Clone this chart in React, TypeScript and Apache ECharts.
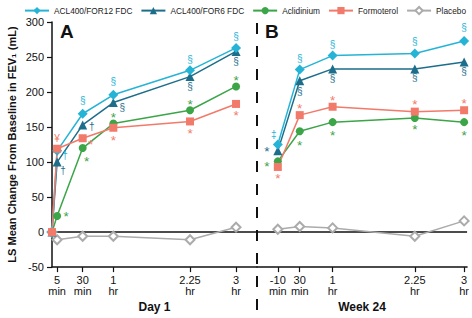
import React, { useEffect, useRef } from "react";
import * as echarts from "echarts";

// ---------- data ----------
const timesA = [0, 5, 30, 60, 135, 180]; // minutes after dose, Day 1
const slotsB = [10, 30, 60, 135, 180]; // plotted slot of each Week 24 time point
const tickValuesA = [5, 30, 60, 135, 180];
const tickLabelsA = ["5\nmin", "30\nmin", "1\nhr", "2.25\nhr", "3\nhr"];
const tickLabelsB = ["-10\nmin", "30\nmin", "1\nhr", "2.25\nhr", "3\nhr"];

const for12A = [0, 116, 169, 196, 231, 263];
const for6A = [0, 100, 153, 185, 222, 258];
const aclA = [0, 23, 120, 155, 174, 208];
const formA = [0, 119, 134, 149, 158, 183];
const placA = [0, -11, -6, -6, -11, 7];

const for12B = [125, 232, 252, 255, 273];
const for6B = [116, 216, 233, 233, 243];
const aclB = [101, 144, 157, 163, 157];
const formB = [93, 167, 179, 172, 174];
const placB = [4, 8, 6, -6, 16];

const annFor12A = ["", "†", "§", "§", "§", "§"];
const annFor6A = ["", "†", "†", "§", "§", "§"];
const annAclA = ["", "*", "*", "*", "*", "*"];
const annFormA = ["", "¥", "*", "*", "*", "*"];
const annFor12B = ["‡", "§", "§", "§", "§"];
const annFor6B = ["*", "§", "§", "§", "§"];
const annAclB = ["*", "*", "*", "*", "*"];
const annFormB = ["*", "*", "*", "*", "*"];

// ---------- styles ----------
const FONT = "Liberation Sans, Arial, Helvetica, sans-serif";
const INK = "#111111";
const C12 = "#25b4d6";
const C6 = "#1d6e8b";
const CACL = "#3ba547";
const CFORM = "#f27a6a";
const CPLA = "#ababab";

const X_MAX_A = 200.5;
const X_MIN_B = -9;
const X_MAX_B = 182.7;

const offFor12A = [null, [8, 5], [0, -13], [0, -13], [0, -11], [0, -11]];
const offFor6A = [null, [6, 8], [9, 2], [9, 5], [0, 10], [0, 10]];
const offAclA = [null, [9, -2], [4, 10], [0, -9], [0, -9], [0, -9]];
const offFormA = [null, [0, -10], [8, 3], [0, 10], [0, 9], [0, 9]];
const offFor12B = [[-4, -10], [0, -11], [0, -11], [0, -12], [0, -13]];
const offFor6B = [[-11, -2], [0, 11], [0, 10], [0, 9], [0, 10]];
const offAclB = [[-11, 2], [0, 11], [0, 10], [0, 9], [0, 10]];
const offFormB = [[0, 9], [0, -10], [0, -9], [0, -10], [0, -10]];

function makeData(xs: number[], ys: number[], ann: string[], offs: any[], color: string) {
  return xs.map((x, i) => {
    const item: any = { value: [x, ys[i]] };
    const t = ann[i];
    if (t && offs[i]) {
      const star = t === "*";
      item.label = {
        show: true,
        formatter: t,
        position: "inside",
        align: "center",
        verticalAlign: "middle",
        offset: [offs[i][0], offs[i][1] + (star ? 3 : 0)],
        color,
        fontSize: star ? 13.5 : 10,
        lineHeight: 8,
        fontFamily: FONT,
      };
    }
    return item;
  });
}

const defs = [
  { name: "Placebo", color: CPLA, symbol: "emptyDiamond", size: 9, a: placA, b: placB, annA: [], annB: [], offA: [], offB: [] },
  { name: "Aclidinium", color: CACL, symbol: "circle", size: 8, a: aclA, b: aclB, annA: annAclA, annB: annAclB, offA: offAclA, offB: offAclB },
  { name: "ACL400/FOR6 FDC", color: C6, symbol: "triangle", size: 9, a: for6A, b: for6B, annA: annFor6A, annB: annFor6B, offA: offFor6A, offB: offFor6B },
  { name: "ACL400/FOR12 FDC", color: C12, symbol: "diamond", size: 10, a: for12A, b: for12B, annA: annFor12A, annB: annFor12B, offA: offFor12A, offB: offFor12B },
  { name: "Formoterol", color: CFORM, symbol: "rect", size: 8, a: formA, b: formB, annA: annFormA, annB: annFormB, offA: offFormA, offB: offFormB },
];

const legendOrder = ["ACL400/FOR12 FDC", "ACL400/FOR6 FDC", "Aclidinium", "Formoterol", "Placebo"];

function buildSeries() {
  const out: any[] = [];
  // zero reference line across each panel, spanning the axis extent
  const extents = [
    [0, X_MAX_A],
    [X_MIN_B, X_MAX_B],
  ];
  extents.forEach((ext, panel) => {
    out.push({
      name: "zero",
      type: "line",
      xAxisIndex: panel,
      yAxisIndex: panel,
      data: [
        [ext[0], 0],
        [ext[1], 0],
      ],
      symbol: "none",
      silent: true,
      lineStyle: { color: INK, width: 1.5 },
      itemStyle: { color: INK },
      emphasis: { disabled: true },
      z: 1,
    });
  });
  defs.forEach((d) => {
    [0, 1].forEach((panel) => {
      const xs = panel === 0 ? timesA : slotsB;
      const ys = panel === 0 ? d.a : d.b;
      const ann = panel === 0 ? d.annA : d.annB;
      const offs = panel === 0 ? d.offA : d.offB;
      out.push({
        name: d.name,
        type: "line",
        xAxisIndex: panel,
        yAxisIndex: panel,
        data: makeData(xs, ys, ann as string[], offs as any[], d.color),
        symbol: d.symbol,
        symbolSize: d.size,
        color: d.color,
        itemStyle: { color: d.color },
        lineStyle: { color: d.color, width: 1.5 },
        emphasis: { disabled: true },
        z: 3,
      });
    });
  });
  return out;
}

function xAxis(grid: number, min: number, max: number, ticks: number[], labels: string[], name: string) {
  return {
    type: "value",
    gridIndex: grid,
    min,
    max,
    axisLine: { show: true, onZero: false, lineStyle: { color: INK, width: 1.5 } },
    axisTick: { show: true, customValues: ticks, length: 5, lineStyle: { color: INK, width: 1.2 } },
    axisLabel: {
      customValues: ticks,
      formatter: (v: number) => {
        const i = ticks.indexOf(v);
        return i >= 0 ? labels[i] : "";
      },
      fontSize: 11,
      lineHeight: 11,
      margin: 7,
      color: INK,
      fontFamily: FONT,
    },
    splitLine: { show: false },
    name,
    nameLocation: "middle",
    nameGap: 33,
    nameTextStyle: { fontWeight: "bold", fontSize: 12, color: INK, fontFamily: FONT },
  };
}

export default function App() {
  const ref = useRef<HTMLDivElement>(null);
  useEffect(() => {
    if (!ref.current) return;
    const chart = echarts.init(ref.current, null, { renderer: "svg" });
    chart.setOption({
      animation: false,
      backgroundColor: "#ffffff",
      textStyle: { fontFamily: FONT },
      legend: {
        data: legendOrder,
        top: 1,
        left: 19,
        width: 453,
        itemWidth: 24,
        itemHeight: 9,
        itemGap: 8,
        selectedMode: false,
        textStyle: { fontSize: 8.3, color: "#222", fontFamily: FONT },
      },
      grid: [
        { left: 52, top: 22, width: 205, bottom: 46 },
        { left: 257, top: 22, width: 213, bottom: 46 },
      ],
      xAxis: [
        xAxis(0, 0, X_MAX_A, tickValuesA, tickLabelsA, "Day 1"),
        xAxis(1, X_MIN_B, X_MAX_B, slotsB, tickLabelsB, "Week 24"),
      ],
      yAxis: [
        {
          type: "value",
          gridIndex: 0,
          min: -50,
          max: 300,
          interval: 50,
          axisLine: { show: true, onZero: false, lineStyle: { color: INK, width: 1.5 } },
          axisTick: { show: true, length: 5, lineStyle: { color: INK, width: 1.2 } },
          axisLabel: { fontSize: 11, color: INK, margin: 8, fontFamily: FONT },
          splitLine: { show: false },
          name: "LS Mean Change From Baseline in FEV\u2081 (mL)",
          nameLocation: "middle",
          nameRotate: 90,
          nameGap: 35,
          nameTextStyle: { fontWeight: "bold", fontSize: 11, color: INK, fontFamily: FONT },
        },
        {
          type: "value",
          gridIndex: 1,
          min: -50,
          max: 300,
          interval: 50,
          show: false,
          splitLine: { show: false },
        },
      ],
      graphic: [
        { type: "text", left: 60, top: 22, style: { text: "A", fontSize: 19, fontWeight: "bold", fill: INK, fontFamily: FONT } },
        { type: "text", left: 265, top: 22, style: { text: "B", fontSize: 19, fontWeight: "bold", fill: INK, fontFamily: FONT } },
        {
          type: "line",
          shape: { x1: 257, y1: 23, x2: 257, y2: 318 },
          style: { stroke: INK, lineWidth: 2, lineDash: [11, 12] },
          z: 10,
        },
      ],
      series: buildSeries(),
    });
    return () => chart.dispose();
  }, []);
  return (
    <div
      ref={ref}
      style={{ position: "fixed", left: 0, top: 0, width: 472, height: 318, background: "#fff" }}
    />
  );
}
